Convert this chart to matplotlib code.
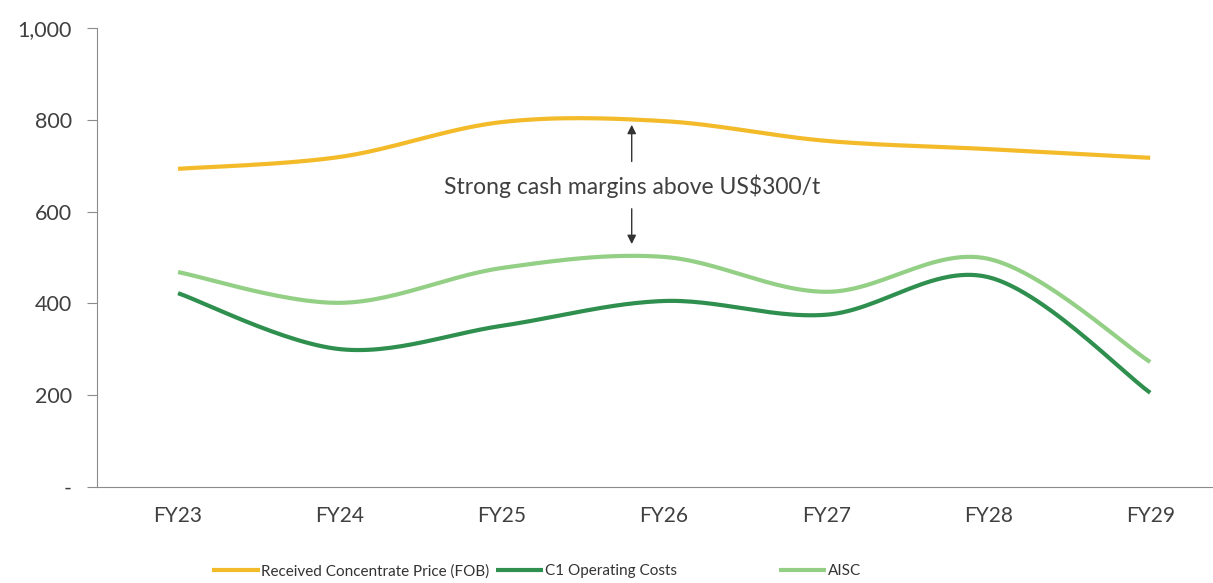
#!/usr/bin/env python3
"""Received price vs C1 / AISC costs, FY23-FY29 (smoothed lines)."""

import numpy as np
import matplotlib.pyplot as plt
from matplotlib.ticker import FuncFormatter

plt.rcParams['font.family'] = ['Lato', 'DejaVu Sans']

years = ['FY23', 'FY24', 'FY25', 'FY26', 'FY27', 'FY28', 'FY29']
price = [693, 719, 795, 797, 754, 736, 717]
c1_costs = [422, 300, 351, 405, 375, 457, 205]
aisc = [468, 401, 477, 501, 425, 497, 272]

series = [
    ('Received Concentrate Price (FOB)', price, '#F3BA2A'),
    ('C1 Operating Costs', c1_costs, '#2F8F4E'),
    ('AISC', aisc, '#93CF85'),
]
# left edge of each legend entry, as a fraction of figure width
legend_x = [0.175, 0.409, 0.642]


def smooth(x, y, n=30):
    """Excel-style smoothed line: cubic Bezier with Catmull-Rom tangents."""
    x = np.asarray(x, float)
    y = np.asarray(y, float)
    pts = np.column_stack([x, y])
    out = []
    for i in range(len(pts) - 1):
        p0 = pts[i - 1] if i > 0 else pts[i]
        p1 = pts[i]
        p2 = pts[i + 1]
        p3 = pts[i + 2] if i + 2 < len(pts) else pts[i + 1]
        c1 = p1 + (p2 - p0) / 6
        c2 = p2 - (p3 - p1) / 6
        t = np.linspace(0, 1, n)[:, None]
        seg = ((1 - t)**3 * p1 + 3 * (1 - t)**2 * t * c1
               + 3 * (1 - t) * t**2 * c2 + t**3 * p2)
        out.append(seg if i == 0 else seg[1:])
    seg = np.vstack(out)
    return seg[:, 0], seg[:, 1]


fig, ax = plt.subplots(figsize=(12.13, 5.83), dpi=100)
fig.subplots_adjust(left=0.08, right=1.015, top=0.952, bottom=0.165)

xs = np.arange(len(years))
lines = []
for label, vals, colour in series:
    sx, sy = smooth(xs, vals)
    ln, = ax.plot(sx, sy, color=colour, linewidth=3, label=label, solid_capstyle='butt')
    lines.append(ln)

ax.set_xlim(-0.5, len(years) - 0.5)
ax.set_ylim(0, 1000)
ax.set_yticks(range(0, 1001, 200))
ax.yaxis.set_major_formatter(FuncFormatter(lambda v, _: '-' if v == 0 else f'{v:,.0f}'))
ax.set_xticks(xs)
ax.set_xticklabels(years)

for side in ['top', 'right']:
    ax.spines[side].set_visible(False)
for side in ['left', 'bottom']:
    ax.spines[side].set_color('#8c8c8c')
ax.tick_params(axis='y', colors='#8c8c8c', labelcolor='#404040', labelsize=15.5, length=7, pad=11)
ax.tick_params(axis='x', length=0, labelcolor='#404040', labelsize=15, pad=14)

# margin annotation
x_arr = 2.8
ax.annotate('', xy=(x_arr, 795), xytext=(x_arr, 703),
            arrowprops=dict(arrowstyle='-|>', color='#333333', lw=1, mutation_scale=13))
ax.annotate('', xy=(x_arr, 523), xytext=(x_arr, 612),
            arrowprops=dict(arrowstyle='-|>', color='#333333', lw=1, mutation_scale=13))
ax.text(x_arr, 655, 'Strong cash margins above US$300/t', ha='center', va='center',
        fontsize=16.5, color='#404040')

# one legend per entry so the uneven spacing can be kept
for ln, lx in zip(lines, legend_x):
    fig.legend(handles=[ln], loc='center left', bbox_to_anchor=(lx, 0.02), frameon=False,
               fontsize=11, handlelength=3.1, handletextpad=0.1, borderpad=0,
               borderaxespad=0, labelcolor='#333333')

plt.savefig('out.png', dpi=100)
